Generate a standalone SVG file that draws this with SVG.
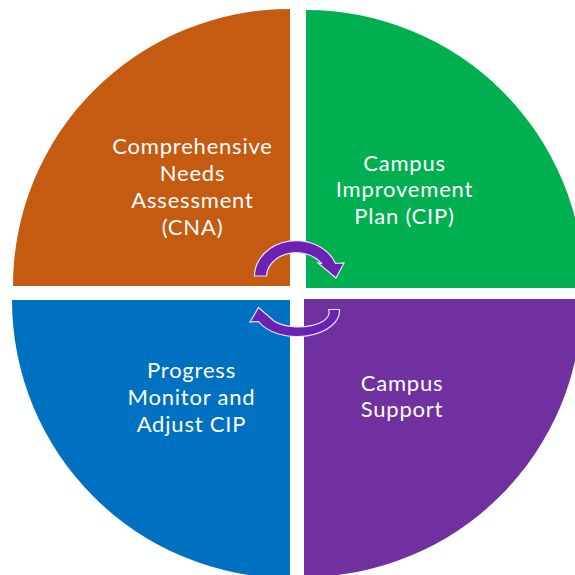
<svg xmlns="http://www.w3.org/2000/svg" width="575" height="575" viewBox="0 0 575 575">
  <style>
    .lbl { font-family: "Lato", "Open Sans", "DejaVu Sans", sans-serif; font-size: 22px; letter-spacing: 0.8px; fill: #ffffff; text-anchor: middle; }
    .arrow { fill: #6B21B3; stroke: #EDE3F7; stroke-width: 1.2; stroke-linejoin: miter; }
  </style>
  <rect width="575" height="575" fill="#ffffff"/>
  <g id="cna">
    <path d="M 290 286 L 13 286 A 277 277 0 0 1 290 9 Z" fill="#C55A11"/>
    <text class="lbl" x="192.5" y="154">Comprehensive</text>
    <text class="lbl" x="192.5" y="181">Needs</text>
    <text class="lbl" x="192.5" y="208">Assessment</text>
    <text class="lbl" x="192.5" y="235">(CNA)</text>
  </g>
  <g id="cip">
    <path d="M 306 288 L 306 10 A 278 278 0 0 1 584 288 Z" fill="#00B050"/>
    <text class="lbl" x="404.5" y="170.5">Campus</text>
    <text class="lbl" x="404.5" y="197">Improvement</text>
    <text class="lbl" x="404.5" y="223.5">Plan (CIP)</text>
  </g>
  <g id="monitor">
    <path d="M 290 300 L 290 578 A 278 278 0 0 1 12 300 Z" fill="#0070C0"/>
    <text class="lbl" x="191.5" y="377.5">Progress</text>
    <text class="lbl" x="191.5" y="404.5">Monitor and</text>
    <text class="lbl" x="191.5" y="431.5">Adjust CIP</text>
  </g>
  <g id="support">
    <path d="M 304 299 L 582 299 A 278 278 0 0 1 304 577 Z" fill="#7030A0"/>
    <text class="lbl" x="402" y="390.5">Campus</text>
    <text class="lbl" x="402" y="416.5">Support</text>
  </g>
  <g id="connectors">
    <path class="arrow" d="M 254.4 276 A 42 36 0 0 1 335.5 263.5 L 344 263 L 336 278 L 318 263 L 321.5 263.5 A 30 24 0 0 0 266.5 276 Z"/>
    <path class="arrow" d="M 339.5 309.5 A 42.5 26 0 0 1 258.5 321.5 L 250 322 L 258.5 307.5 L 274 321 A 30.5 14.5 0 0 0 328.5 309.5 Z"/>
  </g>
</svg>
